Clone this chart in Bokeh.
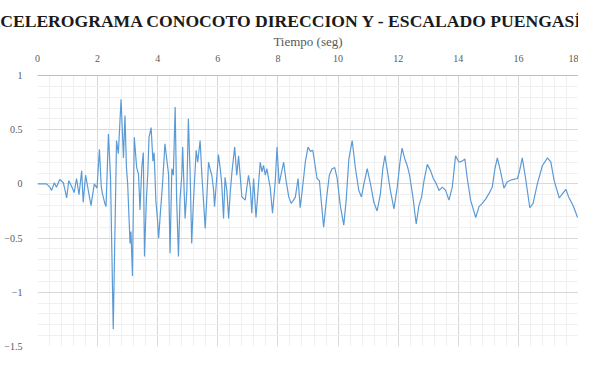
from bokeh.plotting import figure
from bokeh.models import Range1d, LinearAxis, SingleIntervalTicker, ColumnDataSource, Title
from bokeh.embed import file_html
from bokeh.resources import INLINE

# Time (s) and acceleration (g)
tiempo = [0.00, 0.13, 0.30, 0.41, 0.47, 0.56, 0.63, 0.74, 0.86, 0.91, 0.97, 1.04, 1.13, 1.22, 1.30, 1.38,
          1.47, 1.52, 1.60, 1.69, 1.78, 1.89, 1.98, 2.06, 2.12, 2.16, 2.24, 2.28, 2.36, 2.43, 2.52, 2.63,
          2.69, 2.78, 2.86, 2.91, 2.96, 3.00, 3.08, 3.11, 3.16, 3.20, 3.22, 3.30, 3.36, 3.41, 3.47, 3.52,
          3.56, 3.62, 3.67, 3.71, 3.78, 3.84, 3.88, 3.94, 3.99, 4.03, 4.09, 4.16, 4.24, 4.30, 4.36, 4.41,
          4.47, 4.52, 4.58, 4.63, 4.69, 4.74, 4.80, 4.83, 4.91, 4.97, 5.02, 5.08, 5.13, 5.19, 5.28, 5.33,
          5.41, 5.47, 5.58, 5.63, 5.69, 5.74, 5.80, 5.86, 5.89, 5.97, 6.02, 6.08, 6.13, 6.19, 6.24, 6.30,
          6.36, 6.41, 6.47, 6.56, 6.63, 6.69, 6.80, 6.91, 7.02, 7.08, 7.13, 7.19, 7.27, 7.36, 7.41, 7.47,
          7.52, 7.58, 7.63, 7.74, 7.82, 7.91, 7.97, 8.04, 8.10, 8.19, 8.27, 8.36, 8.44, 8.52, 8.58, 8.67,
          8.74, 8.82, 8.91, 9.00, 9.08, 9.16, 9.22, 9.30, 9.38, 9.52, 9.63, 9.71, 9.80, 9.89, 9.97, 10.08,
          10.19, 10.27, 10.36, 10.47, 10.52, 10.58, 10.69, 10.78, 10.86, 10.97, 11.08, 11.19, 11.30, 11.41,
          11.49, 11.56, 11.63, 11.74, 11.86, 11.97, 12.06, 12.13, 12.22, 12.30, 12.38, 12.49, 12.60, 12.69,
          12.78, 12.86, 12.97, 13.08, 13.17, 13.27, 13.36, 13.47, 13.58, 13.69, 13.80, 13.91, 14.02, 14.13,
          14.22, 14.30, 14.41, 14.58, 14.69, 14.80, 14.91, 15.02, 15.13, 15.22, 15.30, 15.41, 15.52, 15.63,
          15.80, 15.97, 16.04, 16.13, 16.24, 16.38, 16.49, 16.63, 16.80, 16.97, 17.08, 17.19, 17.36, 17.47,
          17.58, 17.67, 17.82, 17.97]
aceleracion = [0.00, 0.00, 0.00, -0.03, -0.06, 0.01, -0.03, 0.04, 0.01, -0.05, -0.13, 0.03, -0.02, -0.08, 0.05, -0.10,
               0.12, -0.17, 0.08, -0.06, -0.20, 0.00, -0.04, 0.32, -0.02, -0.09, -0.18, -0.21, 0.46, 0.06, -1.34, 0.40,
               0.28, 0.78, 0.24, 0.63, 0.15, 0.00, -0.55, -0.44, -0.85, 0.05, 0.43, 0.15, 0.09, -0.24, 0.15, 0.29,
               -0.67, -0.16, 0.10, 0.43, 0.52, 0.21, 0.29, -0.16, -0.32, -0.50, -0.26, 0.00, 0.37, 0.23, 0.09, -0.64,
               0.14, 0.08, 0.71, -0.15, -0.67, -0.15, 0.08, 0.34, -0.32, -0.06, 0.60, 0.08, -0.55, -0.15, 0.31, 0.20,
               0.40, 0.08, -0.41, -0.15, 0.20, 0.14, 0.08, -0.06, -0.21, 0.08, 0.27, 0.14, 0.00, -0.32, 0.06, -0.06,
               -0.32, -0.09, 0.11, 0.34, 0.08, 0.26, -0.12, -0.15, 0.08, -0.03, -0.27, 0.05, -0.31, 0.02, 0.20, 0.11,
               0.17, 0.08, 0.14, -0.03, -0.27, 0.02, 0.34, 0.00, 0.08, 0.20, 0.03, -0.12, -0.18, -0.15, -0.12, 0.05,
               -0.22, -0.03, 0.20, 0.34, 0.30, 0.31, 0.20, 0.05, 0.03, -0.40, -0.10, 0.08, 0.14, 0.15, 0.05, -0.21,
               -0.38, -0.15, 0.23, 0.40, 0.28, 0.14, -0.06, -0.12, 0.00, 0.14, 0.00, -0.17, -0.25, -0.09,
               0.14, 0.26, 0.14, -0.06, -0.23, -0.03, 0.20, 0.33, 0.23, 0.17, 0.08, -0.12, -0.37, -0.20,
               -0.12, 0.03, 0.18, 0.12, 0.05, 0.00, -0.06, -0.03, -0.06, -0.15, -0.03, 0.26, 0.20, 0.21,
               0.23, 0.05, -0.15, -0.31, -0.21, -0.18, -0.14, -0.09, -0.03, 0.14, 0.24, 0.11, -0.04, 0.02,
               0.04, 0.05, 0.12, 0.24, 0.05, -0.22, -0.18, 0.00, 0.17, 0.24, 0.20, 0.03, -0.13, -0.09,
               -0.05, -0.12, -0.20, -0.31]

titulo = "ACELEROGRAMA CONOCOTO DIRECCION Y - ESCALADO PUENGASÍ"
etiqueta_x = "Tiempo (seg)"

src = ColumnDataSource(dict(t=tiempo, a=aceleracion))

p = figure(width=578, height=353, output_backend="svg", toolbar_location=None,
           x_range=Range1d(0, 18), y_range=Range1d(-1.5, 1),
           x_axis_location=None, y_axis_location=None,
           min_border_left=37, min_border_right=0, min_border_top=0, min_border_bottom=7)
p.title = None
p.outline_line_color = None
p.background_fill_color = "white"
p.border_fill_color = "white"

main_title = Title(text=titulo, text_font="Liberation Serif", text_font_size="17.6px",
                   text_font_style="bold", text_color="#1a1a1a", align="left",
                   offset=-50, standoff=0)
spacer = Title(text=" ", text_font_size="6px", standoff=0)

xt = SingleIntervalTicker(interval=2, num_minor_ticks=5)
yt = SingleIntervalTicker(interval=0.5, num_minor_ticks=5)

xa = LinearAxis(ticker=xt, axis_label=etiqueta_x)
xa.axis_label_text_font = "Liberation Serif"
xa.axis_label_text_font_style = "normal"
xa.axis_label_text_font_size = "13px"
xa.axis_label_text_color = "#595959"
xa.axis_label_standoff = 3
xa.major_label_text_font = "Liberation Serif"
xa.major_label_text_font_size = "10px"
xa.major_label_text_color = "#595959"
xa.major_label_standoff = 8
xa.axis_line_color = "#bfbfbf"
xa.major_tick_line_color = None
xa.minor_tick_line_color = None

p.above = [xa, main_title, spacer]

ya = LinearAxis(ticker=yt)
ya.major_label_text_font = "Liberation Serif"
ya.major_label_text_font_size = "10px"
ya.major_label_text_color = "#595959"
ya.major_label_standoff = 9
ya.axis_line_color = None
ya.major_tick_line_color = None
ya.minor_tick_line_color = None
p.add_layout(ya, "left")

p.xgrid.ticker = xt
p.ygrid.ticker = yt
p.xgrid.grid_line_color = "#d9d9d9"
p.ygrid.grid_line_color = "#d9d9d9"
p.xgrid.minor_grid_line_color = "#f0f0f0"
p.ygrid.minor_grid_line_color = "#f0f0f0"

p.line("t", "a", source=src, line_color="#5b9bd5", line_width=1.2)

open("out.html", "w").write(file_html(p, INLINE))
